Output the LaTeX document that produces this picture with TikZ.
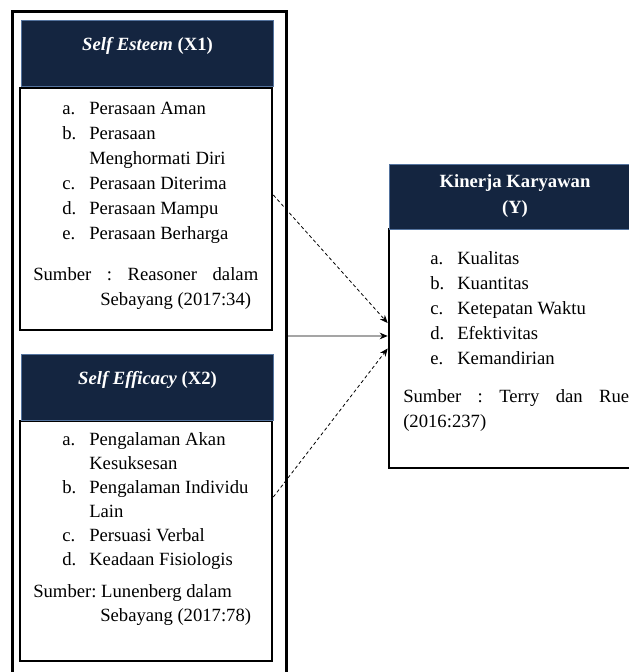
\documentclass[tikz,border=0pt]{standalone}
\usepackage{fontspec}
\setmainfont{Liberation Serif}
\usetikzlibrary{arrows.meta}
\definecolor{navy}{RGB}{20,37,64}
\definecolor{edgeblue}{RGB}{84,115,158}
\newcommand{\itm}[1]{\makebox[20.25pt][l]{#1}}
\newcommand{\cont}{\hspace*{20.25pt}}
\frenchspacing
\tikzset{
  hdr/.style={draw=edgeblue, fill=navy, text=white, line width=0.75pt, minimum width=189pt, align=center, inner sep=0pt, font=\fontsize{14}{19.5}\selectfont\bfseries},
  body/.style={draw, line width=2pt, minimum width=189pt, inner sep=0pt},
  txt/.style={anchor=north west, inner sep=0pt, align=left, font=\fontsize{14}{18.75}\selectfont},
  dashedarrow/.style={->, dash pattern=on 2.5pt off 2pt, line width=0.6pt},
}
\begin{document}
\begin{tikzpicture}[x=0.75pt, y=-0.75pt, >={Stealth[length=6pt,width=5pt]}]
\useasboundingbox (0,0) rectangle (629,672);
% outer frame round both variables
\node[draw, line width=2.25pt, minimum width=205.5pt, minimum height=516.75pt, inner sep=0pt] (frame) at (149,355.5) {};

% X1
\node[body, minimum height=181.5pt] (x1body) at (146,209) {};
\node[hdr, text height=22.5pt, text depth=27pt] (x1head) at (147.5,53) {\textit{Self Esteem} (X1)};
\node[txt] (x1list) at (62,101.5) {\itm{a.}Perasaan Aman\\
  \itm{b.}Perasaan\\
  \cont Menghormati Diri\\
  \itm{c.}Perasaan Diterima\\
  \itm{d.}Perasaan Mampu\\
  \itm{e.}Perasaan Berharga};
\node[txt] (x1src) at (33,267.5) {\makebox[168.75pt][s]{Sumber : Reasoner dalam}\\
  \hspace*{50.25pt}Sebayang (2017:34)};

% X2
\node[body, minimum height=180pt] (x2body) at (146,541) {};
\node[hdr, text height=22.5pt, text depth=27pt] (x2head) at (147.5,387) {\textit{Self Efficacy} (X2)};
\node[txt, font=\fontsize{14}{18}\selectfont] (x2list) at (62,432.5) {\itm{a.}Pengalaman Akan\\
  \cont Kesuksesan\\
  \itm{b.}Pengalaman Individu\\
  \cont Lain\\
  \itm{c.}Persuasi Verbal\\
  \itm{d.}Keadaan Fisiologis};
\node[txt, font=\fontsize{14}{17.5}\selectfont] (x2src) at (33,584.5) {Sumber: Lunenberg dalam\\
  \hspace*{50.25pt}Sebayang (2017:78)};

% Y
\node[body, minimum height=179.25pt] (kbody) at (515,348.5) {};
\node[hdr, minimum height=48.75pt] (khead) at (515,196.5) {Kinerja Karyawan\\(Y)};
\node[txt] (klist) at (430,251.5) {\itm{a.}Kualitas\\
  \itm{b.}Kuantitas\\
  \itm{c.}Ketepatan Waktu\\
  \itm{d.}Efektivitas\\
  \itm{e.}Kemandirian};
\node[txt] (ksrc) at (403,389.5) {\makebox[169.5pt][s]{Sumber : Terry dan Rue}\\
  (2016:237)};

\draw[dashedarrow] ([yshift=10.5pt]x1body.east) -- ([yshift=19.1pt]kbody.west);
\draw[->, line width=0.6pt] ([yshift=14.6pt]frame.east) -- ([yshift=9.4pt]kbody.west);
\draw[dashedarrow] ([yshift=33pt]x2body.east) -- (kbody.west);
\end{tikzpicture}
\end{document}
